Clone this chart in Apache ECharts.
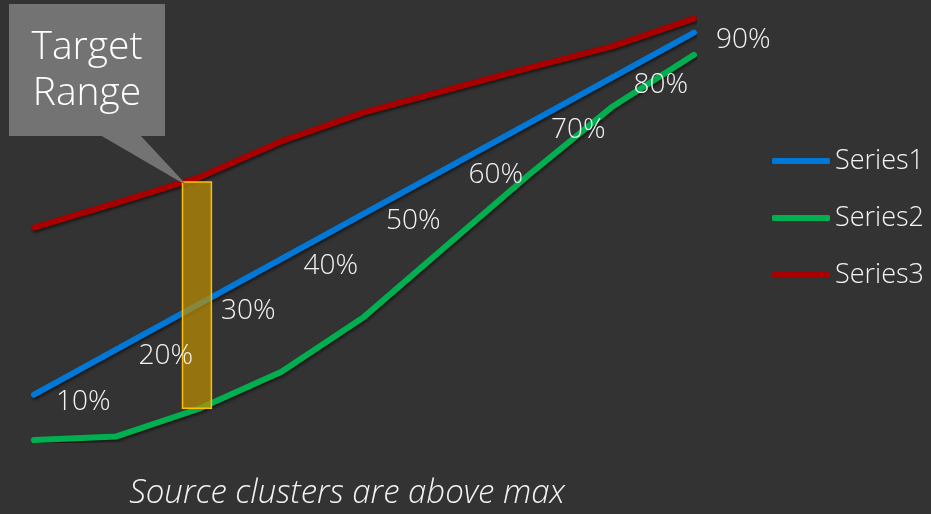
<!DOCTYPE html>
<html>
<head>
<meta charset="utf-8">
<script src="https://cdn.jsdelivr.net/npm/echarts@6/dist/echarts.min.js"></script>
<style>
  html, body { margin: 0; padding: 0; background: #333333; }
  #main { width: 931px; height: 514px; }
</style>
</head>
<body>
<div id="main"></div>
<script>
// data
const steps = [1, 2, 3, 4, 5, 6, 7, 8, 9]
const series1 = [10, 20, 30, 40, 50, 60, 70, 80, 90]
const series2 = [0, 0.8, 6.9, 15.1, 27.2, 42.9, 58.6, 73.5, 85.1]
const series3 = [46.9, 52.4, 58, 66, 72.4, 77.3, 82.2, 86.9, 93.1]
const seriesNames = ['Series1', 'Series2', 'Series3']
const targetX = [2.8, 3.15]
const targetY = [7, 57]
const calloutText = 'Target\nRange'
const footText = 'Source clusters are above max'

const font = '"Open Sans", "Noto Sans", sans-serif'
const pair = vals => vals.map((v, i) => [steps[i], v])

const lineStyle = color => ({
  color: color,
  width: 6,
  cap: 'round',
  join: 'round',
  shadowBlur: 3,
  shadowColor: 'rgba(0,0,0,0.55)',
  shadowOffsetX: 1,
  shadowOffsetY: 2
})

const chart = echarts.init(document.getElementById('main'))
chart.setOption({
  backgroundColor: '#333333',
  animation: false,
  grid: { left: 34, right: 237, top: 10, bottom: 74 },
  xAxis: { type: 'value', min: 1, max: 9, show: false },
  yAxis: { type: 'value', min: 0, max: 95, show: false },
  legend: {
    data: seriesNames,
    orient: 'vertical',
    left: 767,
    top: 141,
    icon: 'roundRect',
    itemWidth: 58,
    itemHeight: 6,
    itemGap: 27,
    textStyle: { color: '#f2f2f2', fontSize: 27, fontFamily: font, fontWeight: 300, lineHeight: 30 }
  },
  series: [
    {
      name: seriesNames[0], type: 'line', data: pair(series1),
      showSymbol: false, color: '#0078d7', lineStyle: lineStyle('#0078d7'), z: 3
    },
    {
      name: seriesNames[1], type: 'line', data: pair(series2),
      showSymbol: false, color: '#00b050', lineStyle: lineStyle('#00b050'), z: 2
    },
    {
      name: seriesNames[2], type: 'line', data: pair(series3),
      showSymbol: false, color: '#a80000', lineStyle: lineStyle('#a80000'), z: 2
    },
    {
      name: 'target', type: 'line', data: [], z: 5,
      markArea: {
        silent: true, z: 5,
        itemStyle: { color: 'rgba(191,143,0,0.7)', borderColor: '#ffc000', borderWidth: 1.5 },
        data: [[{ coord: [targetX[0], targetY[1]] }, { coord: [targetX[1], targetY[0]] }]]
      }
    },
    {
      // Series1 percentage labels, kept above the target box
      name: 'labels', type: 'line', data: pair(series1), z: 6,
      symbol: 'circle', symbolSize: 0.1, showSymbol: true,
      lineStyle: { width: 0, color: 'rgba(0,0,0,0)' },
      itemStyle: { color: 'rgba(0,0,0,0)' },
      label: {
        show: true, position: 'right', distance: 22, offset: [0, 7],
        color: '#f2f2f2', fontSize: 28, fontFamily: font, fontWeight: 300,
        formatter: p => p.value[1] + '%'
      }
    }
  ]
})

// callout pointing at the target range corner
const tip = chart.convertToPixel({ gridIndex: 0 }, [targetX[0], targetY[1]])
chart.setOption({
  graphic: [
    {
      type: 'polygon', z: 100,
      shape: { points: [[100, 135], [140, 135], [tip[0] + 5, tip[1] + 4]] },
      style: { fill: '#737373' }
    },
    {
      type: 'rect', z: 100,
      shape: { x: 9, y: 4, width: 156, height: 132 },
      style: { fill: '#737373' }
    },
    {
      type: 'text', z: 101, x: 87, y: 71,
      style: {
        text: calloutText, fill: '#ffffff', fontSize: 39, lineHeight: 46,
        fontFamily: font, fontWeight: 300, align: 'center', verticalAlign: 'middle'
      }
    },
    {
      type: 'text', z: 101, x: 347, y: 494,
      style: {
        text: footText, fill: '#f2f2f2', fontSize: 33, fontStyle: 'italic',
        fontFamily: font, fontWeight: 300, align: 'center', verticalAlign: 'middle'
      }
    }
  ]
})
</script>
</body>
</html>
